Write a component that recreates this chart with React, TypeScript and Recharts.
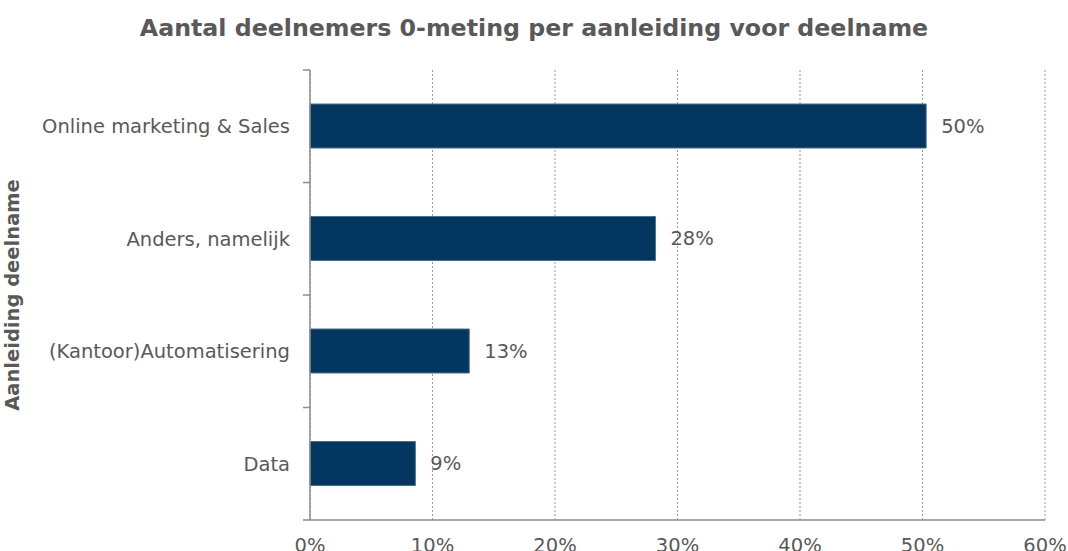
import { Bar, BarChart, CartesianGrid, LabelList, XAxis, YAxis } from 'recharts'

// Share of participants per reason for taking part (percent)
const categories = ['Online marketing & Sales', 'Anders, namelijk', '(Kantoor)Automatisering', 'Data']
const shares = [50.3, 28.2, 13.0, 8.6]
const xTicks = [0, 10, 20, 30, 40, 50, 60]

const rows = categories.map((name, i) => ({ name, share: shares[i] }))

const TEXT = '#595959'
const AXIS = '#8c8c8c'
const FONT = '"DejaVu Sans", Verdana, sans-serif'

// category tick: label plus the Excel-style tick marks on the band edges
function CategoryTick(props: any) {
  const { x, y, payload, index } = props
  const half = payload?.offset ?? 0
  const axisX = x + 20
  return (
    <g>
      <line x1={axisX - 7} x2={axisX} y1={y - half} y2={y - half} stroke={AXIS} strokeWidth={1.5} />
      {index === categories.length - 1 && (
        <line x1={axisX - 7} x2={axisX} y1={y + half} y2={y + half} stroke={AXIS} strokeWidth={1.5} />
      )}
      <text x={x} y={y} dy="0.355em" textAnchor="end" fill={TEXT} fontSize={19.5} fontFamily={FONT}>
        {payload.value}
      </text>
    </g>
  )
}

export default function App() {
  return (
    <div style={{ position: 'relative', width: 1068, height: 551, fontFamily: FONT, background: '#fff' }}>
      <style>{'body{margin:0}'}</style>
      <div style={{
        position: 'absolute', top: 14, left: 0, width: 1068, textAlign: 'center',
        fontSize: 23.7, fontWeight: 'bold', color: TEXT,
      }}>
        Aantal deelnemers 0-meting per aanleiding voor deelname
      </div>
      <BarChart width={1068} height={551} data={rows} layout="vertical"
                margin={{ top: 70, right: 23, bottom: 1, left: 0 }}>
        <CartesianGrid horizontal={false} stroke="#9a9a9a" strokeDasharray="2 2" />
        <XAxis type="number" domain={[0, 60]} ticks={xTicks} interval={0} height={30}
               tickFormatter={(v: number) => `${v}%`} axisLine={{ stroke: AXIS, strokeWidth: 1.5 }}
               tickLine={false} tickMargin={12}
               tick={{ fill: TEXT, fontSize: 19.5, fontFamily: FONT }} />
        <YAxis type="category" dataKey="name" width={310} interval={0}
               axisLine={{ stroke: AXIS, strokeWidth: 1.5 }} tickLine={false}
               tickSize={0} tickMargin={20} tick={<CategoryTick />}
               label={{ value: 'Aanleiding deelname', angle: -90, position: 'insideLeft', offset: 12,
                        style: { fill: TEXT, fontSize: 19.5, fontWeight: 'bold', fontFamily: FONT, textAnchor: 'middle' } }} />
        <Bar dataKey="share" fill="#03375f" stroke="#4a6f92" strokeWidth={1} barSize={44}
             isAnimationActive={false}>
          <LabelList dataKey="share" position="right" offset={15}
                     formatter={(v: number) => `${Math.round(v)}%`}
                     style={{ fill: TEXT, fontSize: 19.5, fontFamily: FONT }} />
        </Bar>
      </BarChart>
    </div>
  )
}
